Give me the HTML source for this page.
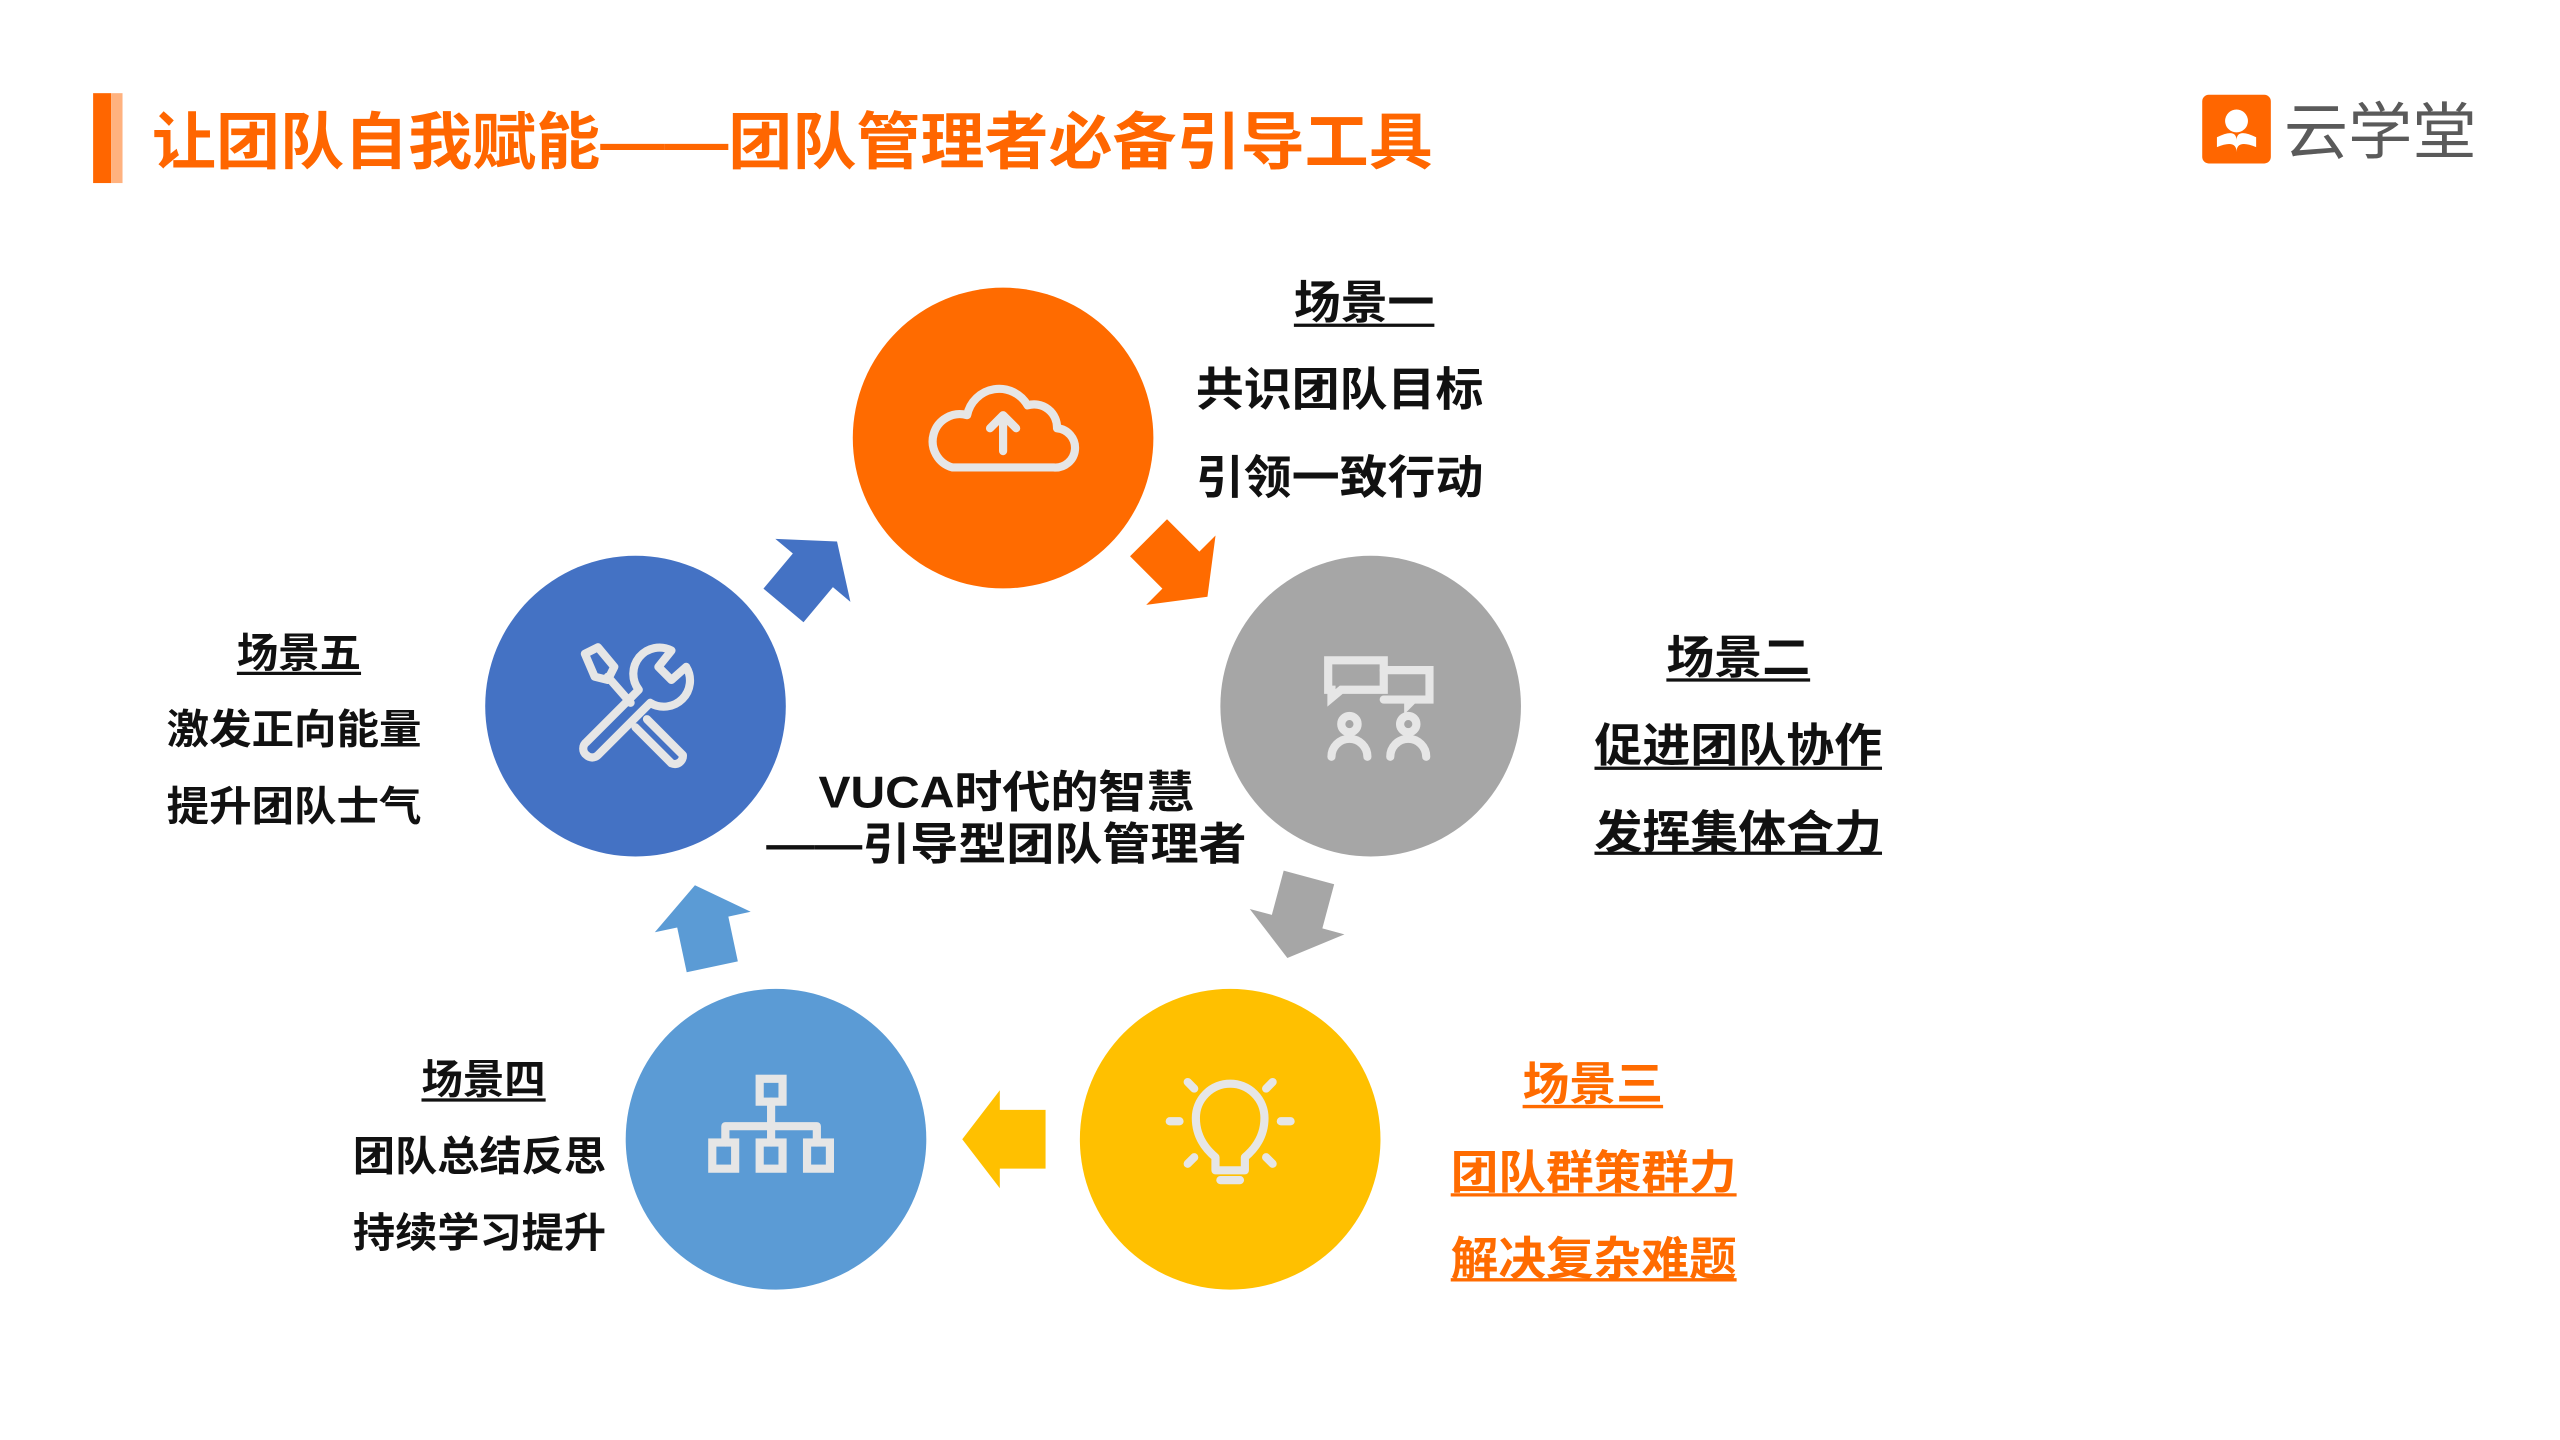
<!DOCTYPE html>
<html><head><meta charset="utf-8"><style>
html,body{margin:0;padding:0;background:#fff;}
svg{display:block}
text{font-family:"Liberation Sans","Noto Sans CJK SC",sans-serif;font-weight:bold}
</style></head><body>
<svg width="2560" height="1440" viewBox="0 0 1567 881" preserveAspectRatio="none" xmlns="http://www.w3.org/2000/svg">
<rect width="1567" height="881" fill="#fff"/>
<rect x="57" y="57" width="11" height="55" fill="#FF6600"/>
<rect x="68" y="57" width="7" height="55" fill="#FFB27F"/>
<text x="93" y="100" font-size="38" fill="#FF6600" textLength="784" lengthAdjust="spacingAndGlyphs">让团队自我赋能——团队管理者必备引导工具</text>
<rect x="1348" y="58" width="42" height="42" rx="4" fill="#FF6600"/>
<path d="M1357 84 q12 -6 12 2 q0 -8 12 -2 v6 q-12 -5 -12 3 q0 -8 -12 -3z" fill="#fff"/>
<circle cx="1369" cy="74" r="7" fill="#fff"/>
<text x="1398" y="94" font-size="38" fill="#5a5a5a" style="font-weight:normal" textLength="118" lengthAdjust="spacingAndGlyphs">云学堂</text>

<circle cx="614" cy="268" r="92" fill="#FF6B00"/>
<circle cx="839" cy="432" r="92" fill="#A6A6A6"/>
<circle cx="753" cy="697" r="92" fill="#FFC000"/>
<circle cx="475" cy="697" r="92" fill="#5B9BD5"/>
<circle cx="389" cy="432" r="92" fill="#4472C4"/>

<g fill="#FF6B00" transform="translate(720,346) rotate(45)"><polygon points="-24,-16 4,-16 4,-30 27,0 4,30 4,16 -24,16"/></g>
<g fill="#4472C4" transform="translate(495,352) rotate(-50)"><polygon points="-24,-16 4,-16 4,-30 27,0 4,30 4,16 -24,16"/></g>
<g fill="#A6A6A6" transform="translate(795,560) rotate(105)"><polygon points="-24,-16 4,-16 4,-30 27,0 4,30 4,16 -24,16"/></g>
<g fill="#FFC000" transform="translate(616,697) rotate(180)"><polygon points="-24,-18 4,-18 4,-30 27,0 4,30 4,18 -24,18"/></g>
<g fill="#5B9BD5" transform="translate(431,568) rotate(-102)"><polygon points="-24,-16 4,-16 4,-30 27,0 4,30 4,16 -24,16"/></g>

<g fill="none" stroke="#E6E6E6" stroke-width="5" stroke-linejoin="round" stroke-linecap="round">
  <path d="M583 286 h62 a12 12 0 0 0 2 -24 a14 14 0 0 0 -18 -14 a20 20 0 0 0 -37 6 a14 14 0 0 0 -9 32z"/>
  <path d="M614 276 v-22 M606 262 l8 -8 8 8"/>
  <path d="M813 404 h34 v18 h-26 l-6 5 v-5 h-2z" stroke-linejoin="miter"/>
  <path d="M847 410 h28 v18 h-10 l-3 3 v-3 h-15" stroke-linejoin="miter"/>
  <circle cx="826" cy="443" r="5"/><path d="M815 463 a11 11 0 0 1 22 0"/>
  <circle cx="862" cy="443" r="5"/><path d="M851 463 a11 11 0 0 1 22 0"/>
  <path d="M744 716 v-8 q-12 -10 -12 -24 a21 21 0 0 1 42 0 q0 14 -12 24 v8z"/>
  <path d="M747 722 h12"/>
  <path d="M716 686 h6 M784 686 h6 M727 662 l4 4 M779 662 l-4 4 M727 712 l4 -4 M779 712 l-4 -4"/>
  <rect x="465" y="660" width="14" height="14" stroke-linejoin="miter"/>
  <path d="M472 674 v8 M444 699 v-10 h56 v10 M472 682 v17"/>
  <rect x="436" y="699" width="14" height="16" stroke-linejoin="miter"/>
  <rect x="465" y="699" width="14" height="16" stroke-linejoin="miter"/>
  <rect x="494" y="699" width="14" height="16" stroke-linejoin="miter"/>
  <path d="M358 400 l8 -4 l10 12 l-4 8 l-8 -2z"/>
  <path d="M372 414 l14 16"/>
  <path d="M359 462 a5 5 0 0 1 0 -8 l32 -32 a16 16 0 0 1 20 -24 l-8 10 l8 8 l9 -8 a16 16 0 0 1 -22 22 l-32 32 a5 5 0 0 1 -7 0z"/>
  <path d="M396 440 l22 22 a5 5 0 0 1 -7 5 l-22 -22"/>
</g>

<text x="616" y="494" font-size="27" fill="#111" text-anchor="middle" textLength="230" lengthAdjust="spacingAndGlyphs">VUCA时代的智慧</text>
<text x="616" y="526" font-size="27" fill="#111" text-anchor="middle" textLength="294" lengthAdjust="spacingAndGlyphs">——引导型团队管理者</text>

<g fill="#111" font-size="28">
<text x="792" y="195" textLength="86" lengthAdjust="spacingAndGlyphs">场景一</text>
<text x="732" y="248" textLength="176" lengthAdjust="spacingAndGlyphs">共识团队目标</text>
<text x="732" y="302" textLength="176" lengthAdjust="spacingAndGlyphs">引领一致行动</text>
<text x="1020" y="412" textLength="88" lengthAdjust="spacingAndGlyphs">场景二</text>
<text x="976" y="466" textLength="176" lengthAdjust="spacingAndGlyphs">促进团队协作</text>
<text x="976" y="519" textLength="176" lengthAdjust="spacingAndGlyphs">发挥集体合力</text>
</g>
<g stroke="#111" stroke-width="2">
<line x1="792" y1="199" x2="878" y2="199"/>
<line x1="1020" y1="416" x2="1108" y2="416"/>
<line x1="976" y1="470" x2="1152" y2="470"/>
<line x1="976" y1="522" x2="1152" y2="522"/>
</g>
<g fill="#FF6B00" font-size="28">
<text x="932" y="673" textLength="86" lengthAdjust="spacingAndGlyphs">场景三</text>
<text x="888" y="727" textLength="175" lengthAdjust="spacingAndGlyphs">团队群策群力</text>
<text x="888" y="780" textLength="175" lengthAdjust="spacingAndGlyphs">解决复杂难题</text>
</g>
<g stroke="#FF6B00" stroke-width="2">
<line x1="932" y1="677" x2="1018" y2="677"/>
<line x1="888" y1="731" x2="1063" y2="731"/>
<line x1="888" y1="783" x2="1063" y2="783"/>
</g>
<g fill="#111" font-size="25">
<text x="258" y="669" textLength="76" lengthAdjust="spacingAndGlyphs">场景四</text>
<text x="216" y="716" textLength="155" lengthAdjust="spacingAndGlyphs">团队总结反思</text>
<text x="216" y="763" textLength="155" lengthAdjust="spacingAndGlyphs">持续学习提升</text>
<text x="145" y="408" textLength="76" lengthAdjust="spacingAndGlyphs">场景五</text>
<text x="102" y="455" textLength="156" lengthAdjust="spacingAndGlyphs">激发正向能量</text>
<text x="102" y="502" textLength="156" lengthAdjust="spacingAndGlyphs">提升团队士气</text>
</g>
<g stroke="#111" stroke-width="2">
<line x1="258" y1="673" x2="334" y2="673"/>
<line x1="145" y1="412" x2="221" y2="412"/>
</g>
</svg>
</body></html>
